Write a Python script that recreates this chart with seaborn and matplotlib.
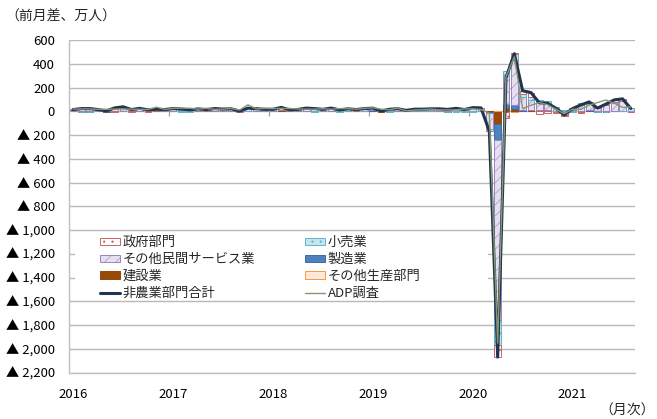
import numpy as np
import matplotlib
matplotlib.use("Agg")
import matplotlib.pyplot as plt
import seaborn as sns
from matplotlib.patches import Patch, Rectangle
from matplotlib.lines import Line2D

# ---- data (前月差、万人), Jan 2016 - Aug 2021 ----
years = ["2016", "2017", "2018", "2019", "2020", "2021"]

total = [15, 23, 23, 15, 4, 29, 38, 15, 25, 12, 17, 15,
         23, 20, 12, 20, 15, 23, 19, 21, 2, 27, 22, 17,
         17, 33, 13, 16, 27, 23, 17, 27, 12, 21, 15, 23,
         27, 3, 17, 22, 8, 18, 18, 21, 21, 16, 25, 15,
         31, 29, -168, -2068, 283, 485, 173, 158, 72, 68, 26, -31,
         23, 54, 79, 27, 61, 96, 105, 24]

adp = [19, 20, 20, 17, 17, 18, 20, 18, 17, 15, 35, 16,
       25, 26, 26, 18, 25, 16, 18, 24, 11, 55, 20, 25,
       23, 24, 24, 20, 18, 18, 22, 17, 23, 23, 18, 25,
       30, 18, 13, 27, 3, 11, 14, 19, 12, 12, 12, 20,
       21, 15, -15, -1950, 290, 458, 23, 51, 73, 56, 17, -20,
       18, 17, 52, 74, 95, 68, 33, 37]

gov = [1, 2, 1, 1, 1, -1, 3, -1, 2, -1, -1, 1,
       1, 1, 1, 1, -1, 3, 1, 1, -2, 1, 1, 1,
       1, 2, 1, 0, 2, 1, 1, 2, 1, 1, -1, 1,
       1, 1, 1, 2, 1, 1, 2, 3, 2, 1, 1, 1,
       2, 3, -2, -98, -55, 5, 30, 34, -22, -15, -10, -5,
       4, -8, 13, 5, 10, 19, 19, -1]

retail = [3, -1, -1, 5, 1, 3, 3, 1, 3, 3, 2, 2,
          4, -2, -2, 2, 0, 0, 1, 0, -1, -1, 2, 1,
          1, 5, 1, 0, 2, -2, 1, 0, -2, -1, 1, -1,
          1, 0, -2, 1, 0, 0, -1, -1, 0, -1, -2, -2,
          -1, -1, -15, -215, 40, 50, 26, 25, 14, 10, -3, 1,
          -4, 4, 3, -2, -1, 7, -1, -3]

other_serv = [9, 23, 22, 9, 5, 26, 29, 15, 19, 10, 14, 10,
              14, 13, 10, 14, 14, 18, 14, 14, 3, 24, 13, 9,
              10, 16, 8, 11, 19, 19, 11, 21, 10, 16, 12, 18,
              18, 5, 16, 17, 6, 14, 16, 17, 19, 19, 21, 15,
              26, 22, -141, -1512, 238, 380, 110, 88, 71, 63, 36, -33,
              17, 60, 56, 30, 50, 69, 83, 23]

mfg = [1, -1, -1, 0, -1, 1, 1, -1, -1, -1, 0, 1,
       1, 2, 1, 1, 0, 1, 2, 3, 1, 2, 3, 3,
       2, 3, 2, 2, 2, 3, 2, 1, 2, 2, 2, 2,
       1, 0, 0, 0, 0, 1, 0, 0, -1, -4, 5, 0,
       -1, 1, -4, -140, 33, 36, 4, 3, 6, 4, 2, 3,
       -1, 2, 3, -3, 3, 2, 3, 4]

constr = [2, 2, 3, 1, -1, 1, 2, 1, 2, 1, 2, 1,
          3, 5, 1, 1, 1, 1, 1, 3, 1, 1, 3, 3,
          3, 6, 1, 2, 2, 1, 2, 3, 1, 3, 1, 3,
          5, -3, 2, 2, 1, 2, 1, 2, 1, 1, 0, 1,
          5, 4, -5, -97, 30, 16, 2, 7, 3, 5, 2, 3,
          5, -5, 3, -1, -2, -1, 1, 1]

other_goods = [-1, -2, -1, -1, -1, -1, 0, 0, 0, 0, 0, 0,
               0, 1, 1, 1, 1, 0, 0, 0, 0, 0, 0, 0,
               0, 1, 0, 1, 0, 1, 0, 0, 0, 0, 0, 0,
               1, 0, 0, 0, 0, 0, 0, 0, 0, 0, 0, 0,
               0, 0, -1, -6, -3, -2, 1, 1, 0, 1, -1, 0,
               2, 1, 1, -2, 1, 0, 0, 0]

W, H = 657, 419
sns.set_theme(style="white")
plt.rcParams['font.family'] = ['Noto Sans CJK JP', 'DejaVu Sans']
plt.rcParams['hatch.linewidth'] = 0.4

fig = plt.figure(figsize=(W / 100, H / 100), dpi=100)
ax_l, ax_r, ax_t, ax_b = 69, 635, 40, 372.8
ax = fig.add_axes([ax_l / W, 1 - ax_b / H, (ax_r - ax_l) / W, (ax_b - ax_t) / H])

n = len(total)
x = np.arange(n)

styles = [
    ("その他生産部門", other_goods, dict(facecolor="#fde9d9", edgecolor="#f79646")),
    ("建設業", constr, dict(facecolor="#984807", edgecolor="#984807")),
    ("製造業", mfg, dict(facecolor="#4f81bd", edgecolor="#3c6ca8")),
    ("その他民間サービス業", other_serv, dict(facecolor="#e6dff1", edgecolor="#9884bb", hatch="///")),
    ("小売業", retail, dict(facecolor="#c6e6ee", edgecolor="#5fb4cc", hatch="..")),
    ("政府部門", gov, dict(facecolor="white", edgecolor="#c96563", hatch="..")),
]

pos = np.zeros(n)
neg = np.zeros(n)
for name, vals, sty in styles:
    v = np.asarray(vals, dtype=float)
    bottom = np.where(v >= 0, pos, neg)
    sns.barplot(x=x, y=v, bottom=bottom, native_scale=True, width=0.8,
                errorbar=None, ax=ax, linewidth=0.7, zorder=2,
                color=sty["facecolor"], saturation=1, **sty)
    pos += np.where(v >= 0, v, 0)
    neg += np.where(v < 0, v, 0)

sns.lineplot(x=x, y=total, ax=ax, color="#1f3550", lw=2.2, zorder=4)
sns.lineplot(x=x, y=adp, ax=ax, color="#8a9870", lw=1.0, zorder=5)

ax.set_xlim(-0.5, n - 0.5)
ax.set_ylim(-2200, 600)
yt = np.arange(-2200, 601, 200)
ax.set_yticks(yt)
ax.set_yticklabels(["▲ {:,}".format(-v) if v < 0 else "{:,}".format(v) for v in yt])
ax.set_xticks(np.arange(0, n, 12))
ax.set_xticklabels(years)
ax.tick_params(axis="x", length=0, pad=11, labelsize=9.5, colors="#000000")
ax.tick_params(axis="y", length=0, pad=10, labelsize=9.5, colors="#000000")
ax.set_xlabel("")
ax.set_ylabel("")
ax.grid(axis="y", color="#b8b8b8", lw=1.0)
ax.grid(axis="x", visible=False)
ax.set_axisbelow(True)
for s in ["top", "right"]:
    ax.spines[s].set_visible(False)
for s in ["left", "bottom"]:
    ax.spines[s].set_color("#c0c0c0")
    ax.spines[s].set_linewidth(1.0)

# year-boundary ticks on the zero line
ax.vlines(np.arange(11.5, n, 12), -42, 0, color="#a0a0a0", lw=0.9, zorder=1.5)

# legend background
def axfx(px):
    return (px - ax_l) / (ax_r - ax_l)
def axfy(py):
    return (ax_b - py) / (ax_b - ax_t)
ax.add_patch(Rectangle((axfx(75), axfy(298)), axfx(488) - axfx(75), axfy(234) - axfy(298),
                       transform=ax.transAxes, facecolor="white", edgecolor="none", zorder=1))

h = {name: Patch(**sty, linewidth=0.7) for name, _, sty in styles}
lt = Line2D([], [], color="#1f3550", lw=2.2)
la = Line2D([], [], color="#8a9870", lw=1.0)
handles = [h["政府部門"], h["その他民間サービス業"], h["建設業"], lt,
           h["小売業"], h["製造業"], h["その他生産部門"], la]
labels = ["政府部門", "その他民間サービス業", "建設業", "非農業部門合計",
          "小売業", "製造業", "その他生産部門", "ADP調査"]
leg = ax.legend(handles, labels, ncol=2, loc="upper left",
                bbox_to_anchor=(axfx(100), axfy(236)), borderaxespad=0, borderpad=0,
                frameon=False, fontsize=9.5, handlelength=1.5, handleheight=0.5,
                handletextpad=0.2, columnspacing=3.8, labelspacing=0.3)
leg.set_zorder(6)

fig.text(5 / W, 1 - 17 / H, "（前月差、万人）", fontsize=10, ha="left", va="center")
fig.text(627 / W, 1 - 411 / H, "（月次）", fontsize=10, ha="center", va="center")

fig.savefig("out.png", dpi=100)
